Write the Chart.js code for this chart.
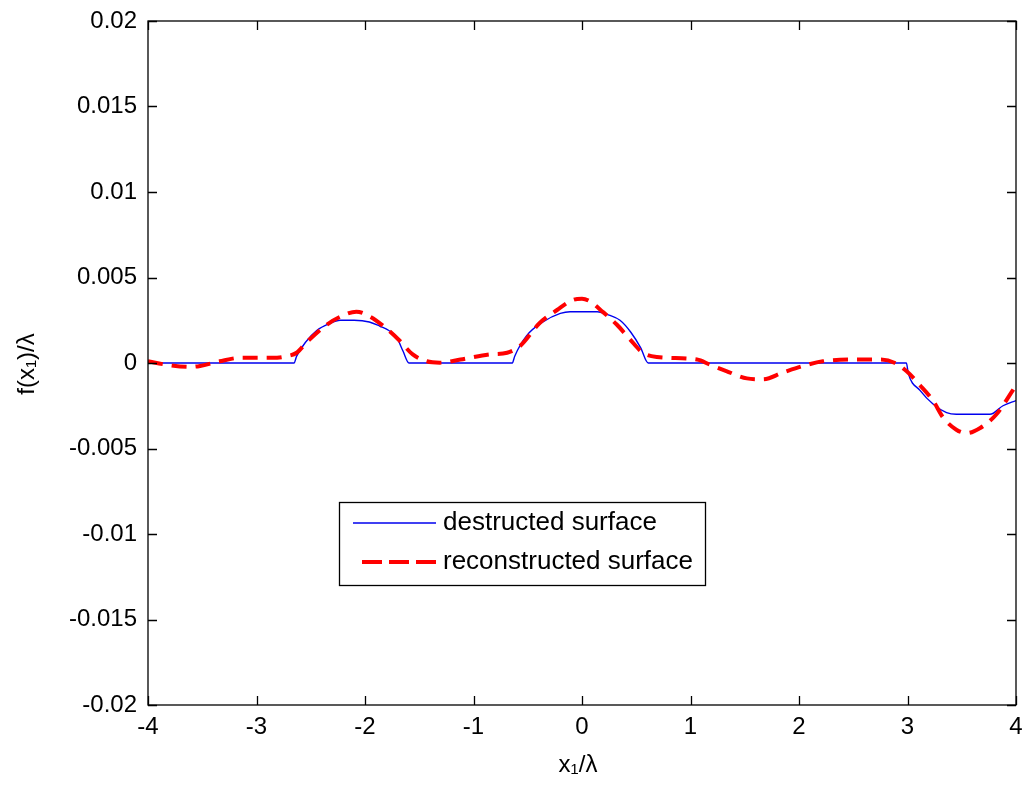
<!DOCTYPE html>
<html>
<head>
<meta charset="utf-8">
<script src="https://cdn.jsdelivr.net/npm/chart.js@4"></script>
<style>
  html, body { margin: 0; padding: 0; background: #fff; }
  #wrap { width: 1023px; height: 787px; }
</style>
</head>
<body>
<div id="wrap"><canvas id="chart" width="1023" height="787"></canvas></div>
<script>
// values
const xDestructed = [-4, -2.654, -2.63, -2.55, -2.445, -2.33, -2.23, -2.1, -1.96, -1.862, -1.78, -1.708, -1.65, -1.595,
  -0.642, -0.62, -0.51, -0.36, -0.2, -0.11, 0.14, 0.25, 0.35, 0.45, 0.54, 0.61,
  2.99, 3.007, 3.115, 3.235, 3.36, 3.45, 3.76, 3.88, 4];
const yDestructed = [0, 0, 0.0004, 0.0012, 0.0019, 0.0023, 0.0025, 0.0025, 0.0024, 0.00215, 0.0019, 0.0015, 0.0007, 0,
  0, 0.0004, 0.0016, 0.0024, 0.0029, 0.003, 0.003, 0.0028, 0.0025, 0.0018, 0.0009, 0,
  0, -0.0006, -0.0016, -0.0024, -0.0029, -0.003, -0.003, -0.0025, -0.0022];

const xReconstructed = [-4, -3.83, -3.61, -3.52, -3.34, -3.15, -2.85, -2.72, -2.63, -2.54, -2.35, -2.23, -2.08, -1.95,
  -1.8, -1.68, -1.56, -1.43, -1.31, -1.12, -0.85, -0.69, -0.57, -0.39, -0.23, -0.08, 0.0, 0.074, 0.19, 0.32, 0.44,
  0.56, 0.69, 1.06, 1.18, 1.33, 1.52, 1.67, 1.85, 2.04, 2.22, 2.5, 2.75, 2.885, 2.99, 3.115, 3.235, 3.33, 3.45,
  3.545, 3.67, 3.82, 3.97, 4];
const yReconstructed = [0.0001, -0.0001, -0.00023, -0.00017, 0.0001, 0.0003, 0.0003, 0.0004, 0.0006, 0.0012, 0.00225,
  0.0027, 0.003, 0.0027, 0.002, 0.0013, 0.0005, 0.0001, 0.00002, 0.0002, 0.0005, 0.0006, 0.001, 0.00234, 0.0031,
  0.0037, 0.00376, 0.0036, 0.003, 0.00225, 0.0014, 0.0006, 0.00035, 0.0002, -0.0001, -0.00047, -0.0009, -0.00095,
  -0.00056, -0.00017, 0.0001, 0.0002, 0.0002, 0, -0.00047, -0.0013, -0.0022, -0.0032, -0.0039, -0.0041, -0.0038,
  -0.003, -0.0016, -0.0013];

const xTicks = [-4, -3, -2, -1, 0, 1, 2, 3, 4];
const xTickLabels = ['-4', '-3', '-2', '-1', '0', '1', '2', '3', '4'];
const yTicks = [-0.02, -0.015, -0.01, -0.005, 0, 0.005, 0.01, 0.015, 0.02];
const yTickLabels = ['-0.02', '-0.015', '-0.01', '-0.005', '0', '0.005', '0.01', '0.015', '0.02'];

const seriesNames = ['destructed surface', 'reconstructed surface'];

const FONT = '"Liberation Sans", Arial, sans-serif';
const BLUE = '#0000ee';
const RED = '#ff0000';

function toPoints(xs, ys) {
  return xs.map((x, i) => ({ x: x, y: ys[i] }));
}

// box, inward ticks, axis titles and legend, MATLAB style
const matlabFrame = {
  id: 'matlabFrame',
  afterDatasetsDraw(chart) {
    const ctx = chart.ctx;
    const a = chart.chartArea;
    const sx = chart.scales.x;
    const sy = chart.scales.y;
    const tl = 9;

    ctx.save();
    ctx.strokeStyle = '#000';
    ctx.lineWidth = 1.3;
    ctx.beginPath();
    xTicks.forEach(v => {
      const px = Math.round(sx.getPixelForValue(v)) + 0.5;
      ctx.moveTo(px, a.bottom); ctx.lineTo(px, a.bottom - tl);
      ctx.moveTo(px, a.top); ctx.lineTo(px, a.top + tl);
    });
    yTicks.forEach(v => {
      const py = Math.round(sy.getPixelForValue(v)) + 0.5;
      ctx.moveTo(a.left, py); ctx.lineTo(a.left + tl, py);
      ctx.moveTo(a.right, py); ctx.lineTo(a.right - tl, py);
    });
    ctx.stroke();
    ctx.strokeRect(a.left, a.top, a.right - a.left, a.bottom - a.top);

    // legend
    const lx = 339.5, ly = 502.5, lw = 366, lh = 83;
    ctx.fillStyle = '#fff';
    ctx.fillRect(lx, ly, lw, lh);
    ctx.strokeStyle = '#000';
    ctx.lineWidth = 1.3;
    ctx.strokeRect(lx, ly, lw, lh);

    ctx.strokeStyle = BLUE;
    ctx.lineWidth = 1.5;
    ctx.beginPath();
    ctx.moveTo(353, 523); ctx.lineTo(436, 523);
    ctx.stroke();

    ctx.strokeStyle = RED;
    ctx.lineWidth = 4;
    ctx.setLineDash([20, 7]);
    ctx.beginPath();
    ctx.moveTo(362, 562); ctx.lineTo(437, 562);
    ctx.stroke();
    ctx.setLineDash([]);

    ctx.fillStyle = '#000';
    ctx.font = '26px ' + FONT;
    ctx.textBaseline = 'middle';
    ctx.textAlign = 'left';
    ctx.fillText(seriesNames[0], 443, 523);
    ctx.fillText(seriesNames[1], 443, 562);

    // axis titles
    ctx.font = '24px ' + FONT;
    ctx.textAlign = 'center';
    ctx.fillText('x\u2081/\u03bb', 578, 765);
    ctx.translate(27, 364);
    ctx.rotate(-Math.PI / 2);
    ctx.fillText('f(x\u2081)/\u03bb', 0, 0);
    ctx.restore();
  }
};

new Chart(document.getElementById('chart'), {
  type: 'line',
  data: {
    datasets: [
      {
        label: seriesNames[0],
        data: toPoints(xDestructed, yDestructed),
        borderColor: BLUE,
        borderWidth: 1.4,
        pointRadius: 0,
        cubicInterpolationMode: 'monotone',
        order: 2
      },
      {
        label: seriesNames[1],
        data: toPoints(xReconstructed, yReconstructed),
        borderColor: RED,
        borderWidth: 4,
        borderDash: [15, 9],
        pointRadius: 0,
        cubicInterpolationMode: 'monotone',
        order: 1
      }
    ]
  },
  options: {
    responsive: false,
    animation: false,
    layout: { padding: { top: 21, right: 7, left: 0, bottom: 0 } },
    plugins: {
      legend: { display: false },
      tooltip: { enabled: false }
    },
    scales: {
      x: {
        type: 'linear',
        min: -4,
        max: 4,
        afterBuildTicks: s => { s.ticks = xTicks.map(v => ({ value: v })); },
        afterFit: s => { s.height = 82; s.paddingLeft = 0; s.paddingRight = 0; },
        ticks: {
          color: '#000',
          font: { family: FONT, size: 24 },
          padding: 8,
          maxRotation: 0,
          callback: (v, i) => xTickLabels[i]
        },
        grid: { display: false, drawTicks: false },
        border: { display: false }
      },
      y: {
        min: -0.02,
        max: 0.02,
        afterBuildTicks: s => { s.ticks = yTicks.map(v => ({ value: v })); },
        afterFit: s => { s.width = 148; s.paddingTop = 0; s.paddingBottom = 0; },
        ticks: {
          color: '#000',
          font: { family: FONT, size: 24 },
          padding: 11,
          callback: (v, i) => yTickLabels[i]
        },
        grid: { display: false, drawTicks: false },
        border: { display: false }
      }
    }
  },
  plugins: [matlabFrame]
});
</script>
</body>
</html>
